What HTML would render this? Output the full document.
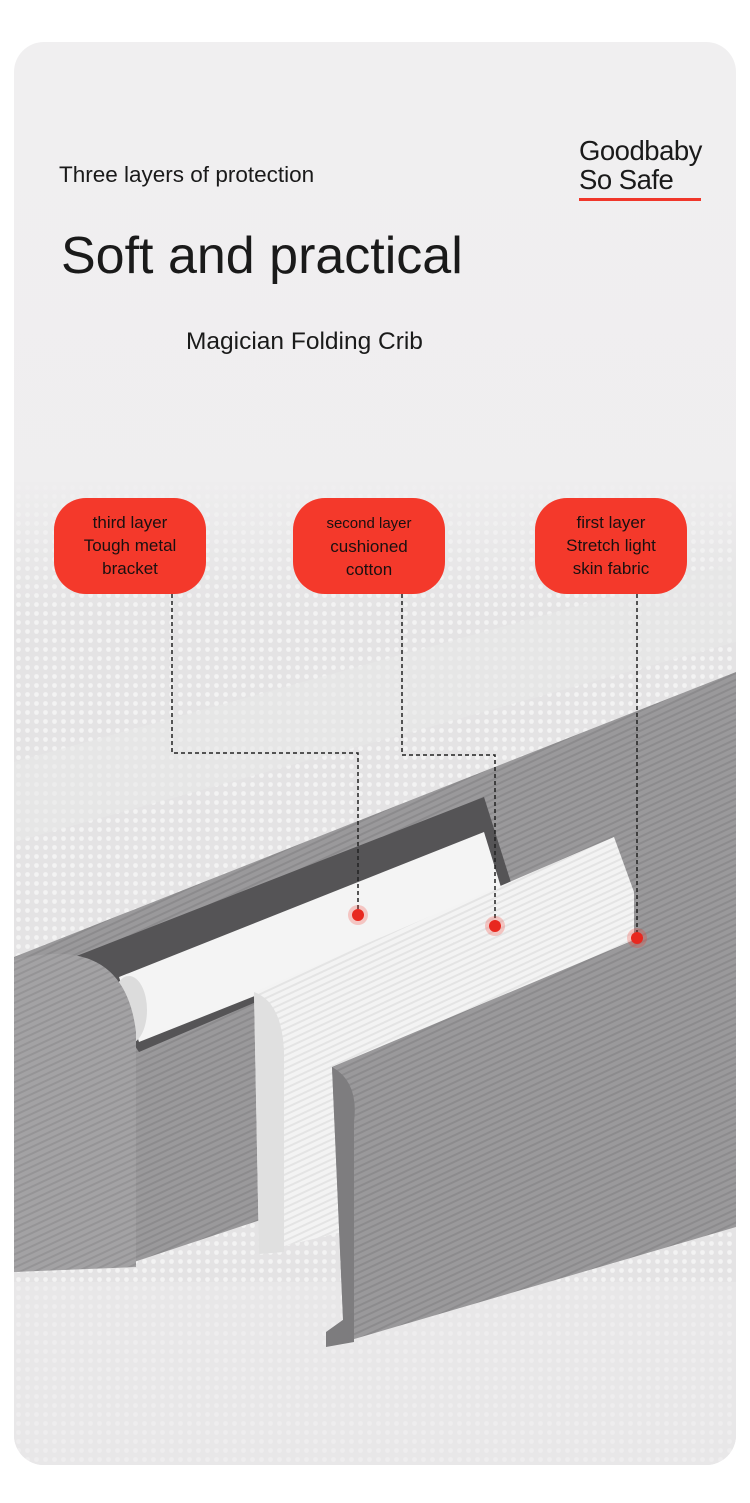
<!DOCTYPE html>
<html><head><meta charset="utf-8">
<style>
html,body{margin:0;padding:0;background:#fff;}
body{width:750px;height:1503px;position:relative;overflow:hidden;font-family:"Liberation Sans",sans-serif;}
.card{position:absolute;left:14px;top:42px;width:722px;height:1423px;border-radius:30px;overflow:hidden;background:linear-gradient(#f0eff0 0%,#efeeef 40%,#e9e8e9 100%);}
.t{position:absolute;color:#1a1a1a;white-space:nowrap;}
.pill{position:absolute;width:152px;height:96px;border-radius:32px;background:#f4392b;color:#1a1010;text-align:center;font-size:17px;line-height:23px;box-sizing:border-box;padding-top:13px;}
</style></head><body>
<div class="card">
<svg width="722" height="1423" style="position:absolute;left:0;top:0">
<defs>
<pattern id="dots" width="9" height="9" patternUnits="userSpaceOnUse"><rect width="9" height="9" fill="#e4e3e4"/><circle cx="4.5" cy="4.5" r="2.4" fill="#f3f3f3"/></pattern>
<linearGradient id="fade" x1="0" y1="0" x2="0" y2="1"><stop offset="0" stop-color="#efeeef" stop-opacity="1"/><stop offset="1" stop-color="#efeeef" stop-opacity="0"/></linearGradient>
<pattern id="twill" width="6" height="6" patternUnits="userSpaceOnUse" patternTransform="rotate(-25)"><rect width="6" height="6" fill="#9a999b"/><rect width="6" height="2" fill="#8c8b8d"/></pattern>
<pattern id="twill2" width="6" height="6" patternUnits="userSpaceOnUse" patternTransform="rotate(-25)"><rect width="6" height="6" fill="#a3a2a4"/><rect width="6" height="2" fill="#959496"/></pattern>
<pattern id="wt" width="6" height="6" patternUnits="userSpaceOnUse" patternTransform="rotate(-25)"><rect width="6" height="6" fill="#f3f3f3"/><rect width="6" height="2" fill="#e4e4e4"/></pattern>
</defs>
<rect x="0" y="440" width="722" height="983" fill="url(#dots)"/>
<rect x="0" y="430" width="722" height="140" fill="url(#fade)"/>
<polygon points="0,720 722,520 722,600 0,800" fill="#e8e7e8" opacity="0.6"/>
<rect x="0" y="1240" width="722" height="183" fill="#ebeaeb" opacity="0.6"/>
<polygon points="0,915 430,745 722,630 722,1020 120,1220 0,1230" fill="url(#twill)"/>
<polygon points="60,915 470,755 500,850 125,1010" fill="#555456"/>
<polygon points="105,935 470,790 490,855 125,1000" fill="#f4f4f4"/>
<ellipse cx="115" cy="968" rx="18" ry="34" fill="#dcdcdc"/>
<path d="M0,918 Q110,890 122,990 L122,1225 L0,1230 Z" fill="url(#twill2)"/>
<polygon points="240,950 600,795 620,850 620,1120 245,1210" fill="url(#wt)"/>
<path d="M240,950 Q268,960 270,1010 L270,1210 L245,1212 Z" fill="#e0e0e0"/>
<polygon points="318,1025 722,855 722,1185 330,1300" fill="url(#twill)"/>
<path d="M318,1025 Q345,1040 340,1080 L340,1290 L330,1300 Z" fill="#7e7d7f"/>
<polygon points="312,1290 340,1270 340,1300 312,1305" fill="#7d7c7e"/>
<g stroke="#222" stroke-width="1.5" stroke-dasharray="4,3" fill="none">
<polyline points="158,552 158,711 344,711 344,873"/>
<polyline points="388,552 388,713 481,713 481,884"/>
<polyline points="623,552 623,896"/>
</g>
<g fill="#f4392b" opacity="0.25"><circle cx="344" cy="873" r="10"/><circle cx="481" cy="884" r="10"/><circle cx="623" cy="896" r="10"/></g>
<g fill="#e8281f"><circle cx="344" cy="873" r="6"/><circle cx="481" cy="884" r="6"/><circle cx="623" cy="896" r="6"/></g>
</svg>
<div class="t" style="left:45px;top:120px;font-size:22.5px;">Three layers of protection</div>
<div class="t" style="left:47px;top:184px;font-size:52px;">Soft and practical</div>
<div class="t" style="left:172px;top:286px;font-size:24.5px;">Magician Folding Crib</div>
<div class="t" style="left:565px;top:94px;font-size:27.5px;line-height:29px;letter-spacing:-0.5px;">Goodbaby<br>So Safe</div>
<div style="position:absolute;left:565px;top:156px;width:122px;height:3px;background:#f0362a"></div>
<div class="pill" style="left:40px;top:456px;">third layer<br>Tough metal<br>bracket</div>
<div class="pill" style="left:279px;top:456px;"><span style="font-size:15px">second layer</span><br>cushioned<br>cotton</div>
<div class="pill" style="left:521px;top:456px;">first layer<br>Stretch light<br>skin fabric</div>
</div>
</body></html>
